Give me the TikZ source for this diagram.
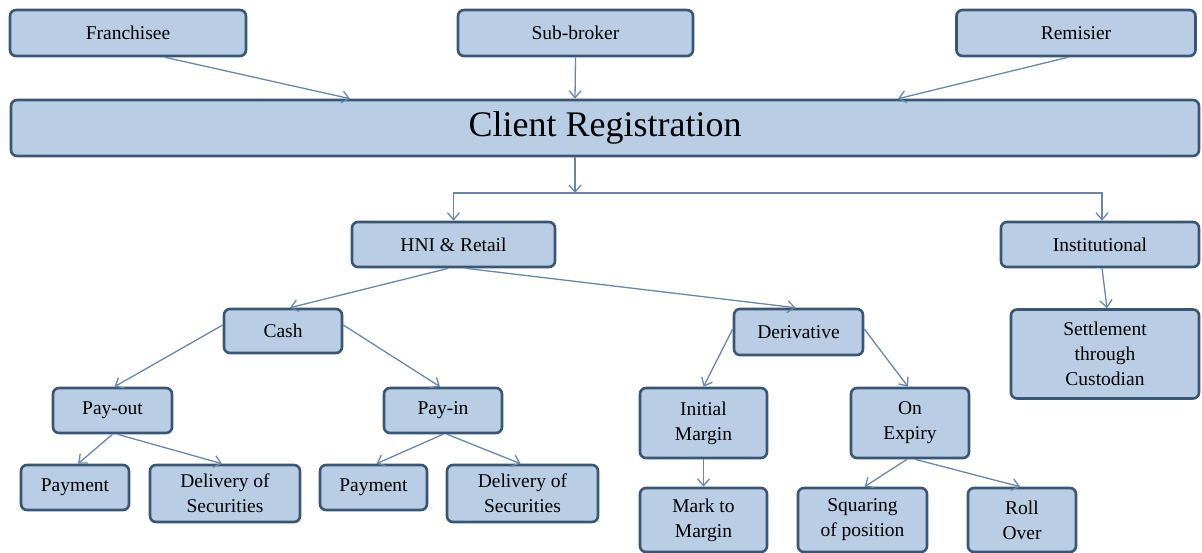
\documentclass[tikz,border=0pt]{standalone}
\usepackage{fontspec}
\setmainfont{Liberation Serif}
\usetikzlibrary{arrows.meta,calc}
\definecolor{boxfill}{HTML}{B9CDE5}
\definecolor{boxline}{HTML}{3A5676}
\definecolor{arrc}{HTML}{6A87AA}
\tikzset{
  box/.style={draw=boxline, fill=boxfill, line width=2.6pt, rounded corners=6pt,
    inner sep=0pt, align=center, font=\fontsize{19.5}{25}\selectfont, text=black},
  arr/.style={draw=arrc, line width=1.3pt, -{Straight Barb[length=7pt,width=12pt]}},
  ln/.style={draw=arrc, line width=1.3pt}
}
\begin{document}
\begin{tikzpicture}[x=1pt,y=-1pt]
\useasboundingbox (0,0) rectangle (1202,553);
\node[box, minimum width=236pt, minimum height=46pt] (fr) at (128,33) {Franchisee};
\node[box, minimum width=235pt, minimum height=46pt] (sb) at (575.5,33) {Sub-broker};
\node[box, minimum width=239pt, minimum height=46pt] (rem) at (1076,33) {Remisier};
\node[box, minimum width=1188pt, minimum height=56pt, font=\fontsize{36}{40}\selectfont] (cr) at (605,128) {\raisebox{-3pt}{Client Registration}};
\node[box, minimum width=203pt, minimum height=45pt] (hni) at (453.5,244.5) {HNI \& Retail};
\node[box, minimum width=198pt, minimum height=45pt] (inst) at (1100,244.5) {Institutional};
\node[box, minimum width=188pt, minimum height=89pt] (set) at (1105,354) {Settlement\\through\\Custodian};
\node[box, minimum width=118pt, minimum height=44pt] (cash) at (283,331) {Cash};
\node[box, minimum width=129pt, minimum height=46pt] (der) at (798.5,332) {Derivative};
\node[box, minimum width=119pt, minimum height=45pt] (po) at (112.5,410.5) {Pay-out};
\node[box, minimum width=118pt, minimum height=45pt] (pi) at (443,410.5) {Pay-in};
\node[box, minimum width=108pt, minimum height=45pt] (pay1) at (75,487.5) {Payment};
\node[box, minimum width=150pt, minimum height=57pt] (del1) at (225,493.5) {Delivery of\\Securities};
\node[box, minimum width=107pt, minimum height=45pt] (pay2) at (373.5,487.5) {Payment};
\node[box, minimum width=151pt, minimum height=57pt] (del2) at (522.5,493.5) {Delivery of\\Securities};
\node[box, minimum width=127pt, minimum height=70pt] (im) at (703.5,423) {Initial\\Margin};
\node[box, minimum width=118pt, minimum height=70pt] (oe) at (910,423) {On\\Expiry};
\node[box, minimum width=127pt, minimum height=64pt] (mm) at (703.5,520) {Mark to\\Margin};
\node[box, minimum width=129pt, minimum height=64pt] (sq) at (862.5,520) {Squaring\\of position};
\node[box, minimum width=108pt, minimum height=64pt] (ro) at (1022,520) {Roll\\Over};
% top connectors
\draw[arr] ([xshift=37pt]fr.south) -- ([xshift=-255pt]cr.north);
\draw[arr] (sb.south) -- ([xshift=-30pt]cr.north);
\draw[arr] ([xshift=-8pt]rem.south) -- ([xshift=293pt]cr.north);
% bus
\coordinate (bus) at (575,193);
\draw[arr] ([xshift=-30pt]cr.south) -- (bus);
\draw[arr] (bus) -| (hni.north);
\draw[arr] (bus) -| ([xshift=2pt]inst.north);
\draw[arr] ([xshift=2pt]inst.south) -- ([xshift=2pt]set.north);
% HNI
\draw[arr] ([xshift=-5pt]hni.south) -- ([xshift=7pt]cash.north);
\draw[arr] ([xshift=12pt]hni.south) -- ([xshift=-3pt]der.north);
% cash
\draw[arr] ([yshift=6pt]cash.west) -- ([xshift=2pt]po.north);
\draw[arr] ([yshift=6pt]cash.east) -- ([xshift=-3pt]pi.north);
\draw[arr] (po.south) -- ([xshift=3pt]pay1.north);
\draw[arr] ([xshift=5pt]po.south) -- ([xshift=-3pt]del1.north);
\draw[arr] (pi.south) -- ([xshift=3pt]pay2.north);
\draw[arr] ([xshift=4pt]pi.south) -- ([xshift=-2pt]del2.north);
% derivative
\draw[arr] ([yshift=3pt]der.west) -- (im.north);
\draw[arr] ([yshift=3pt]der.east) -- ([xshift=-2pt]oe.north);
\draw[arr] (im.south) -- (mm.north);
\draw[arr] ([xshift=-3pt]oe.south) -- ([xshift=2pt]sq.north);
\draw[arr] ([xshift=5pt]oe.south) -- ([xshift=-2pt]ro.north);
\end{tikzpicture}
\end{document}
